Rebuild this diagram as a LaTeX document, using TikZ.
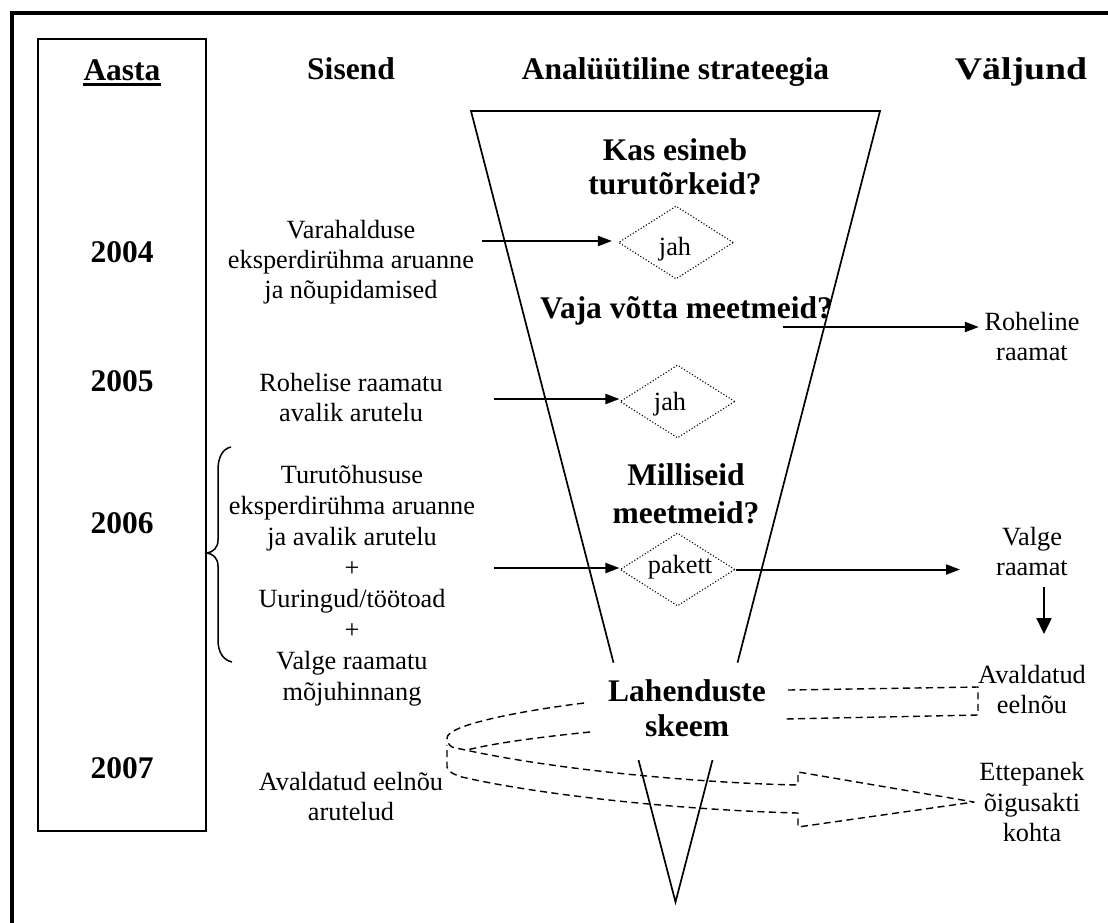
\documentclass[tikz,border=0pt]{standalone}
\usepackage{fontspec}
\setmainfont{Liberation Serif}
\usetikzlibrary{arrows.meta,shapes.geometric}
\begin{document}
\begin{tikzpicture}[x=1pt,y=-1pt,
  bodytext/.style={font=\fontsize{26.3}{30}\selectfont, align=center, anchor=base, inner sep=0pt},
  boldtext/.style={font=\fontsize{31.5}{34}\selectfont\bfseries, align=center, anchor=base, inner sep=0pt},
  funnelline/.style={line width=1.7pt, line join=miter},
  choice/.style={draw, dotted, line width=1.1pt, shape=diamond, minimum width=115pt, minimum height=73pt, inner sep=0pt},
  arr/.style={line width=2pt, -{Triangle[length=14pt,width=10pt]}},
  dashline/.style={line width=1.4pt, dash pattern=on 7pt off 4.5pt, line join=round}
]
\useasboundingbox (0,0) rectangle (1108,922);
\fill[white] (0,0) rectangle (1108,922);

% outer frame
\draw[line width=4pt] (12,930) -- (12,13) -- (1115,13);
% year box
\draw[line width=1.8pt] (38,39) rectangle (206,831);

% headers
\node[boldtext] (hAasta) at (122,80) {Aasta};
\draw[line width=3pt] ([yshift=-4.3pt]hAasta.base west) -- ([yshift=-4.3pt]hAasta.base east);
\node[boldtext] (hSisend) at (351,79) {Sisend};
\node[boldtext] (hStrat) at (675.5,79) {Analüütiline strateegia};
\node[boldtext] (hValjund) at (1021,79) {\scalebox{1.2}[1]{Väljund}};

% years
\node[boldtext] (y2004) at (122,262.7) {2004};
\node[boldtext] (y2005) at (122,391) {2005};
\node[boldtext] (y2006) at (122,533.5) {2006};
\node[boldtext] (y2007) at (122,778) {2007};

% funnel
\draw[funnelline] (613.5,662.7) -- (471,111) -- (880,111) -- (737.5,662.7);
\draw[funnelline] (638.5,760) -- (675.5,902) -- (712.5,760);

% inputs (anchor = baseline of the last line)
\node[bodytext] (s2004) at (351,298.3) {Varahalduse\\eksperdirühma aruanne\\ja nõupidamised};
\node[bodytext] (s2005) at (351,421.7) {Rohelise raamatu\\avalik arutelu};
\node[bodytext, font=\fontsize{26.3}{31}\selectfont] (s2006) at (352,700) {Turutõhususe\\eksperdirühma aruanne\\ja avalik arutelu\\+\\Uuringud/töötoad\\+\\Valge raamatu\\mõjuhinnang};
\node[bodytext] (s2007) at (351,820) {Avaldatud eelnõu\\arutelud};

% brace
\draw[line width=1.5pt] (231,447) .. controls (222,449) and (218,458) .. (218,470) -- (218,540)
  .. controls (218,548) and (213,552) .. (207,553)
  .. controls (213,554) and (218,558) .. (218,566) -- (218,640)
  .. controls (218,652) and (223,660) .. (232,662);

% strategy questions
\node[boldtext] (q1) at (675,194) {Kas esineb\\turutõrkeid?};
\node[boldtext] (q2) at (686.5,318) {Vaja võtta meetmeid?};
\node[boldtext, font=\fontsize{31.5}{38}\selectfont\bfseries] (q3) at (686,523.3) {Milliseid\\meetmeid?};
\node[boldtext, font=\fontsize{31.5}{35}\selectfont\bfseries] (q4) at (687,736.7) {Lahenduste\\skeem};

% diamonds
\node[choice] (d1) at (676,242.5) {};
\node[bodytext] (j1) at (675,255) {jah};
\node[choice] (d2) at (677.5,401.5) {};
\node[bodytext] (j2) at (670,410) {jah};
\node[choice] (d3) at (677.5,569.5) {};
\node[bodytext] (p3) at (680,573) {pakett};

% outputs
\node[bodytext] (o1) at (1032,360) {Roheline\\raamat};
\node[bodytext] (o2) at (1032,575) {Valge\\raamat};
\node[bodytext] (o3) at (1032,713) {Avaldatud\\eelnõu};
\node[bodytext, font=\fontsize{26.3}{30.5}\selectfont] (o4) at (1032,841.7) {Ettepanek\\õigusakti\\kohta};

% arrows
\coordinate (a1) at (482,241);
\draw[arr, shorten >=6pt] (a1) -- (a1 -| d1.west);
\coordinate (a2) at (783,327);
\draw[arr, shorten >=5.5pt] (a2) -- (a2 -| o1.west);
\coordinate (a3) at (494,399);
\draw[arr] (a3) -- (a3 -| d2.west);
\coordinate (a4) at (494,568);
\draw[arr] (a4) -- (a4 -| d3.west);
\coordinate (a5) at (960,568);
\draw[arr] (d3.east) -- (d3.east -| a5);
\coordinate (a6s) at (1044,587);
\coordinate (a6e) at (1044,634);
\draw[line width=2.4pt, -{Triangle[length=16pt,width=15pt]}] (a6s) -- (a6e);

% dashed open box towards "Avaldatud eelnõu"
\draw[dashline] (788,690) -- (978,687) -- (978,715) -- (785,719);

% dashed curved arrow
\draw[dashline] (584,703) .. controls (520,711) and (447,725) .. (447,738)
  .. controls (447,742) and (449,745) .. (452,747)
  .. controls (550,770) and (700,783) .. (798,785) -- (798,772) -- (974,802) -- (798,827) -- (798,813)
  .. controls (680,810) and (540,795) .. (462,777)
  .. controls (455,775) and (448,772) .. (447,767) -- (447,745);
\draw[dashline] (590,732) .. controls (540,737) and (495,743) .. (467,750);
\end{tikzpicture}
\end{document}
